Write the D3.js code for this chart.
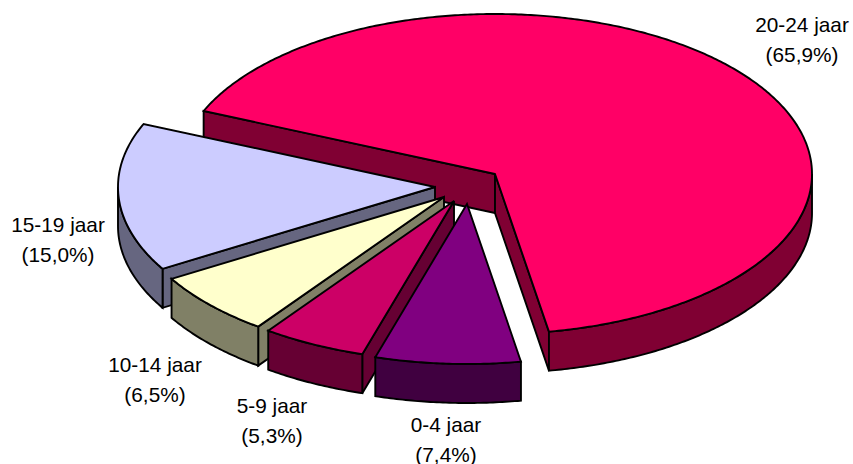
<!DOCTYPE html>
<html>
<head>
<meta charset="utf-8">
<script src="https://cdn.jsdelivr.net/npm/d3@7"></script>
<style>
html,body{margin:0;padding:0;background:#fff;overflow:hidden;}
svg{display:block;}
text{font-family:"Liberation Sans",Arial,sans-serif;font-size:20.8px;fill:#000;text-anchor:middle;}
</style>
</head>
<body>
<div id="chart"></div>
<script>
const categories = ["20-24 jaar","0-4 jaar","5-9 jaar","10-14 jaar","15-19 jaar"];
const shares = [65.9,7.4,5.3,6.5,15.0];
const shareLabels = ["(65,9%)","(7,4%)","(5,3%)","(6,5%)","(15,0%)"];
const topColors = ["#FF0066","#800080","#CC0066","#FFFFCC","#CCCCFF"];
const sideColors = ["#800033","#400040","#660033","#808066","#666680"];
// layout: apex of each exploded slice and label centre
const apexes = [[495,174],[467,204],[454,201],[444,197],[435,187]];
const labelAt = [[802,32],[446,432],[272,413],[155,372],[58,232]];

const W=853,H=464,RX=317,RY=160,DEPTH=39;
const svg=d3.select("#chart").append("svg").attr("width",W).attr("height",H);
const start=-66.8*Math.PI/180;
const arcs=d3.pie().sort(null).startAngle(start).endAngle(start+2*Math.PI)(shares);
const line=d3.line();
const rim=(c,a,dz=0)=>[c[0]+RX*Math.sin(a),c[1]-RY*Math.cos(a)+dz];
const sample=(a0,a1)=>{const n=Math.max(2,Math.ceil(Math.abs(a1-a0)/0.01));return d3.range(n+1).map(i=>a0+(a1-a0)*i/n);};

const drawOrder=[0,4,3,2,1];
drawOrder.forEach(i=>{
  const d=arcs[i],c=apexes[i],g=svg.append("g");
  const style=(p,fill)=>p.attr("fill",fill).attr("stroke","#000").attr("stroke-width",1.9).attr("stroke-linejoin","miter").attr("stroke-miterlimit",3);
  const below=[c[0],c[1]+DEPTH];
  // only the radial walls that face the viewer
  const walls=[];
  if(Math.sin(d.startAngle)<0) walls.push(d.startAngle);
  if(Math.sin(d.endAngle)>0) walls.push(d.endAngle);
  walls.forEach(a=>{
    style(g.append("path").attr("d",line([c,rim(c,a),rim(c,a,DEPTH),below])+"Z"),sideColors[i]);
  });
  const lo=Math.max(d.startAngle,Math.PI/2),hi=Math.min(d.endAngle,1.5*Math.PI);
  if(hi>lo){
    const as=sample(lo,hi);
    const pts=as.map(a=>rim(c,a)).concat(as.slice().reverse().map(a=>rim(c,a,DEPTH)));
    style(g.append("path").attr("d",line(pts)+"Z"),sideColors[i]);
  }
  const top=[c].concat(sample(d.startAngle,d.endAngle).map(a=>rim(c,a)));
  style(g.append("path").attr("d",line(top)+"Z"),topColors[i]);
});

categories.forEach((name,i)=>{
  const t=svg.append("text").attr("x",labelAt[i][0]).attr("y",labelAt[i][1]);
  t.append("tspan").attr("x",labelAt[i][0]).text(name);
  t.append("tspan").attr("x",labelAt[i][0]).attr("dy",29.8).text(shareLabels[i]);
});
</script>
</body>
</html>
